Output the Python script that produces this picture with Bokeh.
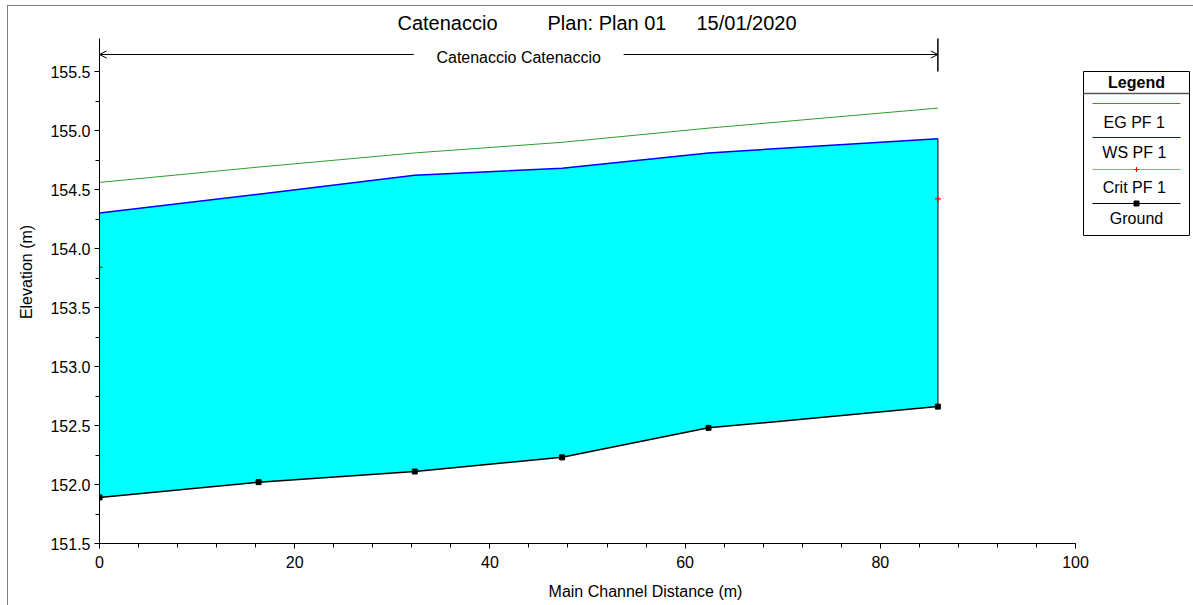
import math
from bokeh.plotting import figure
from bokeh.models import (Label, Arrow, OpenHead, FixedTicker, SingleIntervalTicker,
                          Range1d, NumeralTickFormatter)
from bokeh.embed import file_html
from bokeh.resources import INLINE

# ---------------- data ----------------
stations = [0.0, 16.3, 32.3, 47.4, 62.4, 85.9]          # main channel distance (m)
ground = [151.89, 152.02, 152.11, 152.23, 152.48, 152.66]
ws_pf1 = [154.30, 154.46, 154.62, 154.68, 154.81, 154.93]
eg_pf1 = [154.56, 154.69, 154.81, 154.90, 155.02, 155.19]
crit_pf1 = [153.84, math.nan, math.nan, math.nan, math.nan, 154.42]

title_parts = ["Catenaccio", "Plan: Plan 01", "15/01/2020"]
reach_label = "Catenaccio Catenaccio"
legend_title = "Legend"
legend_labels = ["EG  PF 1", "WS  PF 1", "Crit  PF 1", "Ground"]

x_ticks = [0, 20, 40, 60, 80, 100]
y_ticks = [151.5, 152.0, 152.5, 153.0, 153.5, 154.0, 154.5, 155.0, 155.5]
y_minor = [151.75, 152.25, 152.75, 153.25, 153.75, 154.25, 154.75, 155.25]

FONT = "Liberation Sans"

# ---------------- layout helpers (page pixels -> data) ----------------
W, H = 1191, 605
LEFT = 99
FRAME_H = 543
BOTTOM = H - FRAME_H
FRAME_W = W - LEFT
PX_PER_X = 9.76
PX_PER_Y = 118.0
X0_PAGE = LEFT            # page x of x=0
YB_PAGE = FRAME_H         # page y of y=151.5


def X(px):
    return (px - X0_PAGE) / PX_PER_X


def Y(py):
    return 151.5 + (YB_PAGE - py) / PX_PER_Y


p = figure(width=W, height=H, output_backend="svg", toolbar_location=None,
           x_range=Range1d(0, FRAME_W / PX_PER_X),
           y_range=Range1d(151.5, 151.5 + FRAME_H / PX_PER_Y),
           min_border_left=LEFT, min_border_right=0, min_border_top=0,
           min_border_bottom=BOTTOM)
p.outline_line_color = None
p.xgrid.visible = False
p.ygrid.visible = False
p.background_fill_color = "white"
p.border_fill_color = "white"

# axes
xa = p.xaxis[0]
ya = p.yaxis[0]
xa.ticker = SingleIntervalTicker(interval=20, num_minor_ticks=5)
xa.bounds = (x_ticks[0], x_ticks[-1])
ya.ticker = FixedTicker(ticks=y_ticks, minor_ticks=y_minor)
ya.bounds = (151.5, Y(38))
ya.formatter = NumeralTickFormatter(format="0.0")
for ax in (xa, ya):
    ax.axis_line_color = "black"
    ax.axis_line_width = 1
    ax.major_tick_line_color = "black"
    ax.minor_tick_line_color = "black"
    ax.major_tick_out = 5
    ax.major_tick_in = 0
    ax.minor_tick_out = 4
    ax.minor_tick_in = 0
    ax.major_label_text_font = FONT
    ax.major_label_text_font_size = "16px"
    ax.major_label_text_color = "black"
    ax.axis_label_text_font = FONT
    ax.axis_label_text_font_size = "16px"
    ax.axis_label_text_font_style = "normal"
    ax.axis_label_text_color = "black"
xa.axis_label = "Main Channel Distance (m)"
ya.axis_label = "Elevation (m)"
xa.major_label_standoff = 7
ya.major_label_standoff = 4
xa.axis_label_standoff = 12
ya.axis_label_standoff = 12

# water fill
p.varea(x=stations, y1=ground, y2=ws_pf1, fill_color="#00FFFF")
# right edge of section
p.segment(x0=[stations[-1]], y0=[ground[-1]], x1=[stations[-1]], y1=[ws_pf1[-1]],
          line_color="#2F4F4F", line_width=1.5)
# EG
p.line(stations, eg_pf1, line_color="#2E9E2E", line_width=1)
# WS
p.line(stations, ws_pf1, line_color="#0000FF", line_width=1.5)
# Crit
p.line(stations, crit_pf1, line_color="#FF8080", line_width=1)
p.scatter(stations, crit_pf1, marker="cross", size=6, line_color="#FF0000", line_width=1.2)
# Ground
p.line(stations, ground, line_color="black", line_width=1.5)
p.scatter(stations, ground, marker="square", size=5, fill_color="black", line_color="black")

# reach annotation on top
ya_line = Y(54)
mid = (stations[0] + stations[-1]) / 2
gap = 10.75
p.add_layout(Arrow(end=OpenHead(size=7, line_width=1, line_color="black"),
                   x_start=mid - gap, y_start=ya_line, x_end=stations[0], y_end=ya_line,
                   line_color="black", line_width=1))
p.add_layout(Arrow(end=OpenHead(size=7, line_width=1, line_color="black"),
                   x_start=mid + gap, y_start=ya_line, x_end=stations[-1], y_end=ya_line,
                   line_color="black", line_width=1))
p.segment(x0=[stations[-1]], y0=[Y(38)], x1=[stations[-1]], y1=[Y(71)],
          line_color="black", line_width=1.5)
p.add_layout(Label(x=mid, y=Y(57), text=reach_label, text_align="center",
                   text_baseline="middle", text_font=FONT, text_font_size="16px",
                   text_color="black"))

# title
title_px = [397, 547, 696]
for t, px in zip(title_parts, title_px):
    p.add_layout(Label(x=X(px), y=Y(22), text=t, text_align="left",
                       text_baseline="middle", text_font=FONT, text_font_size="20px",
                       text_color="black"))

# legend box
LB_L, LB_R, LB_T, LB_B = 1083, 1189, 71, 235
p.quad(left=[X(LB_L)], right=[X(LB_R)], top=[Y(LB_T)], bottom=[Y(LB_B)],
       fill_color="white", line_color="black", line_width=1)
cx = (LB_L + LB_R) / 2
p.add_layout(Label(x=X(cx), y=Y(82), text=legend_title, text_align="center",
                   text_baseline="middle", text_font=FONT, text_font_size="16px",
                   text_font_style="bold", text_color="black"))
p.line([X(LB_L), X(LB_R)], [Y(93), Y(93)], line_color="#555555", line_width=1.5)

leg_colors = ["#2E9E2E", "#0000FF", "#FF8080", "black"]
leg_line_y = [103, 137, 169, 203]
leg_text_y = [122, 152, 187, 218]
for lab, col, ly, ty in zip(legend_labels, leg_colors, leg_line_y, leg_text_y):
    p.line([X(LB_L + 9), X(LB_R - 9)], [Y(ly), Y(ly)], line_color=col, line_width=1)
    p.add_layout(Label(x=X(cx), y=Y(ty), text=lab, text_align="center",
                       text_baseline="middle", text_font=FONT, text_font_size="16px",
                       text_color="black"))
p.scatter([X(cx)], [Y(169)], marker="cross", size=5, line_color="#FF0000")
p.scatter([X(cx)], [Y(203)], marker="square", size=5, fill_color="black", line_color="black")

html = file_html(p, INLINE)
frame_css = ("<style>body::after{content:'';position:fixed;left:7px;top:5px;"
             "width:3000px;height:3000px;border-left:1px solid #808080;"
             "border-top:1px solid #808080;pointer-events:none;z-index:10;}</style>")
html = html.replace("</head>", frame_css + "</head>", 1)
open("out.html", "w").write(html)
